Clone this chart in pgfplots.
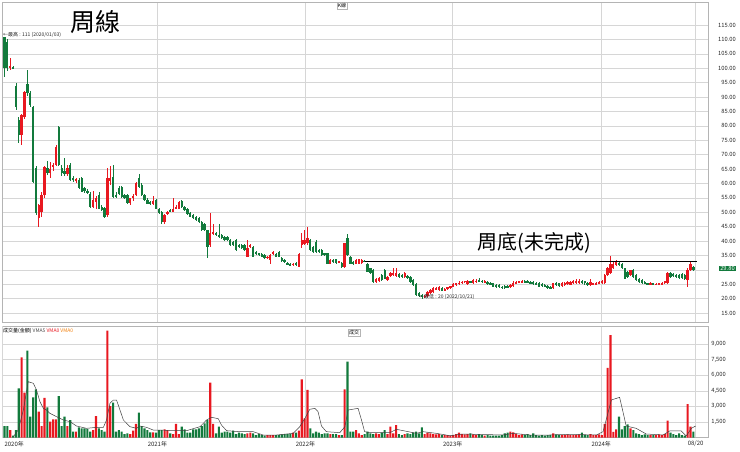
\documentclass[border=0pt]{standalone}
\usepackage{fontspec}
\setmainfont{Noto Sans CJK TC}
\usepackage{pgfplots}
\usepackage{pgfplotstable}
\pgfplotsset{compat=1.18}
\definecolor{upred}{RGB}{232,24,32}
\definecolor{dngreen}{RGB}{18,122,60}
\definecolor{gridc}{RGB}{214,214,214}
\definecolor{framec}{RGB}{180,180,180}

\pgfplotstableread{
w O H L C V
0 111 111 97 100 1115
1 109 110 99 100 1115
2 100 103.5 99.5 100.8 731
3 100.4 100.8 99.8 100 200
4 94 95 85.5 86.6 731
5 82 83 74 76.8 4740
6 76.8 84 73.3 83.8 7720
7 83.2 92 82.5 91.9 4317
8 94.7 99.4 90.5 91.3 8355
9 91.3 92 86.5 87.2 2010
10 86.6 87 60 60.6 3875
11 65.2 66 49 49.6 4644
12 47.9 53 45 52.5 2490
13 50.2 57 48.5 56 1115
14 56 66 55 65.8 3808
15 65.5 67.8 63 63.5 2913
16 63.8 67.5 62 65 1529
17 65.8 67 64.5 66.4 1757
18 66.4 73.5 66 72.8 1757
19 79.5 80 66 66.4 4000
20 65.2 66.5 62.5 63.5 1115
21 64.5 69 62.5 63.3 2010
22 63.3 66.5 62.5 65.2 1115
23 66.4 67 61 61.2 1692
24 62 62.5 60.5 61.2 570
25 60.8 62 60 61.5 570
26 61.2 62 58 58.3 987
27 61.8 62.3 57 57.1 891
28 58.3 58.8 56.8 57.5 891
29 57.5 58 56.3 56.6 827
30 56.5 57 51.5 51.9 570
31 52 57.5 51.5 54.2 731
32 53.5 55.5 51 55 2077
33 56 57 51 51.3 891
34 51.9 52.5 50.5 50.8 731
35 51.5 52 48 48.4 570
36 49 65.5 48.5 61.8 10278
37 61 66 59.5 62 3038
38 62.3 66.4 55 55.4 3358
39 56 57 55 55.5 570
40 58.3 59 56 56.5 731
41 58.9 59.2 55 55.4 570
42 56 56.5 54.5 55 346
43 56 56.5 53 53.1 410
44 53.1 55 52.5 54.8 346
45 55 56.5 54 55.5 667
46 56 60.5 55.5 60 1308
47 61.8 63.2 58.5 58.9 2397
48 59.4 60 55.5 56 1115
49 56 56.5 54 54.2 891
50 54.2 55 52.8 53 731
51 53.5 54 52.5 52.7 506
52 53 55.7 52.5 54 500
53 54.2 54.5 51 51.3 474
54 51.3 51.5 49.3 49.6 731
55 50.2 50.5 46 46.5 731
56 46.7 49.5 46 49 795
57 49.5 50.5 49 50 731
58 50.8 51.2 50 50.2 410
59 50.2 54.8 50 51.3 346
60 51.3 52.5 51 52 1308
61 51.3 54 51 53.7 346
62 53.9 54.2 51.5 51.9 1050
63 51.9 52.2 50.5 50.8 795
64 51.1 51.5 49 49.3 474
65 49.6 50 48.2 48.5 474
66 49 49.3 47.8 48.1 795
67 48.5 48.8 47 47.3 795
68 47.9 48.2 46.4 46.7 891
69 46.7 47 43.5 43.8 1115
70 46 46.3 43.5 43.8 1372
71 43.8 44 34 38 1692
72 38.6 49.6 38 42.7 5282
73 42.6 46 42 43.3 1308
74 42.7 43.2 41.8 42.1 410
75 42.1 46 41.2 41.5 1050
76 42.1 42.4 40.7 41 474
77 41.5 41.8 40 40.3 570
78 41.5 41.8 40 40.3 570
79 40.3 40.6 38.3 38.6 474
80 39.7 40 38.3 38.6 667
81 40.3 40.6 36.6 36.9 346
82 38.6 38.9 37.7 38 474
83 38.6 38.9 37.2 37.5 410
84 38.6 38.9 36.6 36.9 346
85 34.6 40.3 34.3 37.5 410
86 38 38.9 37.7 38.6 474
87 38 38.3 34.3 34.6 410
88 36.3 36.6 35.1 35.4 250
89 35.7 36 34.8 35.1 346
90 35.4 35.7 34.3 34.6 250
91 35.1 35.4 33.9 34.2 186
92 34.2 34.9 33.9 34.6 250
93 33.4 35.4 32.2 35.1 250
94 35.4 36.6 35.1 36.3 250
95 35.4 35.7 34.3 34.6 250
96 36.3 36.6 34.3 34.6 250
97 34.2 34.5 32.8 33.1 314
98 33.4 33.7 32.3 32.6 346
99 32.3 32.6 31.6 31.9 346
100 32 32.3 31.4 31.7 346
101 31.7 32.5 31.4 32.2 474
102 32.3 32.6 31.4 31.7 474
103 31.1 35.7 30.9 35.5 667
104 38.6 42.7 37.5 40.3 5603
105 39 44 38.5 40.5 1853
106 39.2 45 38.5 40.9 4577
107 40.3 40.6 36.6 36.9 891
108 38 38.3 36 36.3 410
109 39.8 40.2 36 36.3 570
110 37 37.3 36 36.3 474
111 36.9 37.2 34.8 35.1 346
112 35.7 36 34.8 35.1 410
113 35.7 36 31.9 32.2 410
114 32.2 33.7 31.9 33.4 346
115 33.4 33.7 32.5 32.8 346
116 33.6 33.9 32.2 32.5 346
117 32.8 33.2 32.5 33 250
118 32.5 32.8 30.7 31.1 250
119 31.1 39.5 30.8 39.2 4644
120 40.9 42.4 34.8 35.1 7301
121 34.6 34.9 31.9 32.2 570
122 32.8 33 31.8 32 570
123 32.2 33.7 31.9 33.4 731
124 32.2 33.9 31.9 33.6 410
125 32.5 33.7 32.2 33.4 250
126 33.2 33.5 32.8 33 346
127 32.2 32.5 29.1 29.4 570
128 30.5 30.8 28.5 28.8 410
129 30 30.3 25.6 25.9 346
130 25.9 27.3 25.6 27 410
131 26.2 27.4 25.9 27.1 346
132 28.2 28.5 26.2 26.5 474
133 29.9 30.4 26.7 27 731
134 26.5 27.9 26.2 27.6 346
135 27.8 29.1 27.5 28.8 1050
136 28.2 30.5 27.9 29 410
137 27.8 30.5 27.5 28.8 1200
138 28.5 28.8 27.3 27.6 346
139 28.2 28.5 27.1 27.4 250
140 27.6 29.1 27.3 28.8 346
141 27.9 28.2 26.8 27.1 410
142 27.6 27.9 25.6 25.9 346
143 26.5 26.8 24.4 24.7 474
144 25 25.3 21 21.3 570
145 22 22.3 20.5 20.8 410
146 21.3 21.6 20 20.5 990
147 20.7 21.3 20.3 20.9 346
148 20.9 22.7 20.6 22.4 474
149 22 23.3 21.7 23 410
150 22.4 23.9 22.1 23.6 346
151 23.2 24 23 23.6 314
152 23 24.4 22.7 24.1 346
153 23.6 23.9 22.5 22.8 250
154 22.9 23.6 22.6 23.3 250
155 23.2 24.1 23 23.9 250
156 24 24.5 23.5 24.3 186
157 24.2 25.3 24 25 250
158 24.8 25.5 24.3 25.3 346
159 25 26 24.7 25.6 474
160 25.4 26.2 25 25.9 346
161 25.9 26.3 25.5 26.1 314
162 25.1 26.4 24.8 26 346
163 26 26.3 25.3 25.6 410
164 25.4 27 25.2 26.6 314
165 26 26.8 25.5 26.3 250
166 26.4 27.1 25.8 26 346
167 26.2 26.5 25.5 25.8 250
168 25.6 26.5 25.3 26.2 186
169 25.9 26.2 24.7 25 250
170 25.5 25.7 24.6 24.9 186
171 25.3 25.6 24 24.2 186
172 24.6 25 23.7 24 186
173 24.7 25 23.6 23.9 186
174 24.2 24.5 23.5 23.8 250
175 24.3 24.6 23.5 23.9 410
176 24.5 24.8 23.6 23.9 474
177 24.1 25 23.8 24.6 570
178 24.4 26.2 24.2 25.3 506
179 25.3 26.3 25 25.9 346
180 25.8 26.2 25.4 25.9 250
181 25.9 26.4 25.5 26 314
182 26.2 26.4 25.3 25.6 250
183 26.2 26.5 25.3 25.6 346
184 25.9 26.2 25 25.3 250
185 25.9 26.2 24.9 25.2 410
186 25.6 25.9 24.6 24.9 250
187 25.6 25.9 24 24.2 186
188 25 25.3 24.2 24.5 250
189 24.7 25 23.9 24.2 186
190 24.4 24.7 23.4 23.6 250
191 24.1 24.4 23.3 23.6 250
192 23.6 25.6 23.3 25.3 410
193 25.5 25.8 24.4 24.7 314
194 25.3 25.6 24.2 24.5 250
195 24.5 25.9 24.2 25.5 250
196 24.7 25.8 24.4 25.5 250
197 25 26 24.7 25.7 314
198 24.9 26.1 24.6 25.8 250
199 25.3 26.5 25 26.1 250
200 25.3 26.7 25 26.3 250
201 25.3 26.8 25 26.2 314
202 26.3 26.6 25.2 25.5 474
203 26 26.3 24.8 25.3 250
204 25.6 25.9 24.5 24.8 250
205 24.7 27 24.5 25.9 346
206 24.8 25.6 24.6 25.3 250
207 24.9 25.8 24.6 25.3 250
208 25.3 26.3 25 25.9 314
209 25.3 26.5 25 26 250
210 25.3 28.5 25 28.2 1308
211 28.2 31 28 30.5 6700
212 28.8 34.8 28.5 32.2 9850
213 30.5 32.8 30.2 32.2 540
214 31.7 33.5 31.4 33.2 795
215 32.5 32.9 31.3 31.6 2010
216 32.2 32.5 30.2 30.5 795
217 30.5 30.8 26.8 27 1115
218 29.3 29.6 27.3 27.6 1277
219 28.2 30.1 27.9 29.9 891
220 29.9 30.2 27.3 27.6 731
221 28.2 28.5 26.2 26.5 410
222 27 27.3 25.6 25.9 346
223 26.5 26.8 25.1 25.4 250
224 25.9 26.2 25 25.3 314
225 25.3 25.6 24.7 25 250
226 25.1 25.7 24.8 25.4 250
227 25.3 25.6 24.6 24.9 250
228 24.9 25.4 24.6 25.1 250
229 24.9 25.6 24.6 25.3 314
230 25 25.9 24.8 25.5 250
231 25.3 26.3 25 26 346
232 25.3 29.2 25 28.8 1629
233 28.8 29.4 27.2 27.6 474
234 28.6 29 27.6 27.9 346
235 28.3 28.6 27.2 27.4 250
236 28.2 28.5 26.8 27.1 410
237 28.6 28.9 26.8 27.1 250
238 28.2 28.5 26.5 26.7 186
239 26.4 30.5 23.9 30 3230
240 30 33 29.7 32.2 1050
241 31 31.5 29.6 29.8 570
}\candles

\begin{document}
\begin{tikzpicture}
\path[use as bounding box] (0pt,0pt) rectangle (740pt,451pt);
\pgfplotsset{
 panel/.style={
  scale only axis, anchor=south west, width=706.5pt,
  xmin=-0.87, xmax=246.3,
  axis line style={draw=framec, line width=0.6pt},
  xtick={53.5,105.3,156.8,208.8,241.8},
  xmajorgrids, ymajorgrids,
  grid style={draw=gridc, line width=0.55pt},
  major tick style={draw=none},
  yticklabel pos=right,
  /pgf/number format/assume math mode=true,
 },
 upc/.style={restrict expr to domain={\thisrow{C}-\thisrow{O}}{0:10000}},
 dnc/.style={restrict expr to domain={\thisrow{C}-\thisrow{O}}{-10000:-0.0001}},
 wick/.style={draw=none, mark=none,
   /pgfplots/error bars/y dir=both, /pgfplots/error bars/y explicit,
   /pgfplots/error bars/error mark=none,
   /pgfplots/error bars/error bar style={draw=#1, line width=0.6pt}},
 body/.style={draw=none, mark=none,
   /pgfplots/error bars/y dir=both, /pgfplots/error bars/y explicit,
   /pgfplots/error bars/error mark=none,
   /pgfplots/error bars/error bar style={draw=#1, line width=2.3pt}},
}
% ---------- price panel ----------
\begin{axis}[panel, at={(2pt,129pt)}, height=320pt, ymin=11.9, ymax=123,
  xticklabels={},
  ytick={15,20,...,115},
  yticklabel style={font=\fontsize{5.8}{6}\selectfont, text=black!85, anchor=east, inner sep=0pt, xshift=27.5pt,
    /pgf/number format/fixed, /pgf/number format/fixed zerofill, /pgf/number format/precision=2},
]
\addplot[wick=upred, upc] table[x=w, y expr={(\thisrow{H}+\thisrow{L})/2}, y error expr={(\thisrow{H}-\thisrow{L})/2}] {\candles};
\addplot[wick=dngreen, dnc] table[x=w, y expr={(\thisrow{H}+\thisrow{L})/2}, y error expr={(\thisrow{H}-\thisrow{L})/2}] {\candles};
\addplot[body=upred, upc] table[x=w, y expr={(\thisrow{O}+\thisrow{C})/2}, y error expr={max(abs(\thisrow{C}-\thisrow{O})/2,0.12)}] {\candles};
\addplot[body=dngreen, dnc] table[x=w, y expr={(\thisrow{O}+\thisrow{C})/2}, y error expr={max(abs(\thisrow{C}-\thisrow{O})/2,0.12)}] {\candles};
\addplot[black, line width=1.3pt] coordinates {(126,33) (242.2,33)};
\end{axis}
% ---------- volume panel ----------
\begin{axis}[panel, at={(2pt,13.4pt)}, height=111.6pt, ymin=0, ymax=10730,
  xticklabels={2021年,2022年,2023年,2024年,08/20},
  extra x ticks={-0.87}, extra x tick labels={2020年},
  extra x tick style={xticklabel style={anchor=north west, xshift=-1pt}},
  xticklabel style={font=\fontsize{6}{7}\selectfont, text=black!85},
  ytick={1500,3000,...,9000}, scaled y ticks=false,
  yticklabel style={font=\fontsize{5.8}{6}\selectfont, text=black!85, anchor=east, inner sep=0pt, xshift=17.5pt,
    /pgf/number format/fixed, /pgf/number format/1000 sep={,}},
]
\addplot[ybar, bar width=2.1pt, bar shift=0pt, fill=upred, draw=none, upc] table[x=w, y=V] {\candles};
\addplot[ybar, bar width=2.1pt, bar shift=0pt, fill=dngreen, draw=none, dnc] table[x=w, y=V] {\candles};
\addplot[black!75, line width=0.5pt] coordinates {
(3.1,90) (4.8,731) (6.6,2654) (8.3,5378) (10.1,5218) (11.2,4577) (12.4,3455) (13.6,2814) (14.7,2654) (15.9,2333) (18.2,2013) (20.6,1692) (22.9,1532) (25.2,1115) (28.7,891) (32.2,987) (34.6,987) (35.7,1692) (36.9,3295) (38.1,3615) (39.2,3615) (40.4,2654) (41.6,1692) (43.9,1051) (46.2,891) (47.4,1115) (49.7,987) (52,731) (54.4,731) (59,667) (63.7,667) (68.4,1051) (70.7,1692) (72.4,1949) (74.8,1820) (75.9,1211) (77.7,667) (82.3,570) (87,570) (90.5,250) (95.2,250) (101,410) (103.3,1051) (105.1,1853) (106.8,2718) (108.6,2814) (109.7,2493) (110.9,1115) (112.6,570) (117.3,474) (119.1,1051) (120.2,2654) (123.7,2814) (124.9,1692) (126,570) (127.8,474) (134.8,474) (137.1,795) (139.5,667) (144.1,410) (146.4,570) (151.1,410) (155.8,186) (160.4,346) (174.4,250) (177.9,410) (183.7,250) (190.7,250) (197.7,314) (207.1,250) (209.4,570) (211.1,2333) (212.3,3615) (215.2,3872) (216.1,2814) (217.5,1115) (221,891) (224.5,346) (230.4,250) (232.7,635) (236.8,635) (238.5,154) (240.3,891) (241.8,1115)
};
\end{axis}
% ---------- annotations ----------
\node[anchor=west, inner sep=0pt, font=\fontsize{25}{25}\selectfont] at (70pt,429pt) {周線};
\node[anchor=west, inner sep=0pt, font=\fontsize{5}{5}\selectfont, text=black!85] at (3pt,416pt) {←最高 : 111 (2020/01/03)};
\node[inner sep=0pt, font=\fontsize{20}{20}\selectfont] at (534pt,208.5pt) {周底(未完成)};
\node[anchor=west, inner sep=0pt, font=\fontsize{5}{5}\selectfont, text=black!85] at (419pt,154.5pt) {←最低 : 20 (2022/10/21)};
\node[draw=framec, fill=white, inner sep=1pt, font=\fontsize{5}{5}\selectfont] at (342pt,445pt) {K線};
\node[draw=framec, fill=white, inner sep=1pt, font=\fontsize{5}{5}\selectfont] at (354pt,118pt) {成交};
\node[anchor=west, inner sep=0pt, font=\fontsize{5}{5}\selectfont] at (3pt,120pt) {成交量(金額) \textcolor{black!70}{VMA5} \textcolor{upred}{VMA0} \textcolor{orange!80!brown}{VMA0}};
\node[fill=dngreen, text=white, inner sep=0.8pt, font=\fontsize{5.8}{6}\selectfont] at (727.5pt,182.5pt) {29.80};
\end{tikzpicture}
\end{document}
